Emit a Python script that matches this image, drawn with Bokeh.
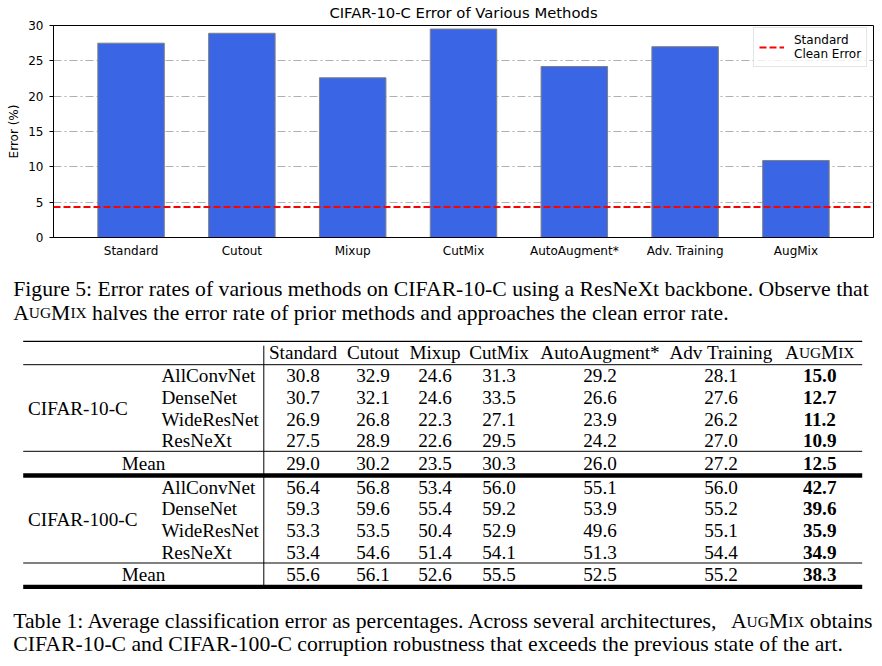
from bokeh.plotting import figure
from bokeh.models import (ColumnDataSource, FactorRange, Range1d, Span, Legend,
                          LegendItem, SingleIntervalTicker)
from bokeh.layouts import column
from bokeh.embed import file_html
from bokeh.resources import INLINE
from bokeh.core.properties import value

# ---------------- data ----------------
methods = ["Standard", "Cutout", "Mixup", "CutMix", "AutoAugment*", "Adv. Training", "AugMix"]
resnext_errors = [27.5, 28.9, 22.6, 29.5, 24.2, 27.0, 10.9]
clean_error = 4.3

table_headers = ["Standard", "Cutout", "Mixup", "CutMix", "AutoAugment*", "Adv Training"]
architectures = ["AllConvNet", "DenseNet", "WideResNet", "ResNeXt"]
datasets = ["CIFAR-10-C", "CIFAR-100-C"]
c10_allconvnet = [30.8, 32.9, 24.6, 31.3, 29.2, 28.1, 15.0]
c10_densenet = [30.7, 32.1, 24.6, 33.5, 26.6, 27.6, 12.7]
c10_wideresnet = [26.9, 26.8, 22.3, 27.1, 23.9, 26.2, 11.2]
c10_resnext = [27.5, 28.9, 22.6, 29.5, 24.2, 27.0, 10.9]
c10_mean = [29.0, 30.2, 23.5, 30.3, 26.0, 27.2, 12.5]
c100_allconvnet = [56.4, 56.8, 53.4, 56.0, 55.1, 56.0, 42.7]
c100_densenet = [59.3, 59.6, 55.4, 59.2, 53.9, 55.2, 39.6]
c100_wideresnet = [53.3, 53.5, 50.4, 52.9, 49.6, 55.1, 35.9]
c100_resnext = [53.4, 54.6, 51.4, 54.1, 51.3, 54.4, 34.9]
c100_mean = [55.6, 56.1, 52.6, 55.5, 52.5, 55.2, 38.3]

fig_caption_1 = "Figure 5: Error rates of various methods on CIFAR-10-C using a ResNeXt backbone. Observe that"
fig_caption_2 = "halves the error rate of prior methods and approaches the clean error rate."
tab_caption_1a = "Table 1: Average classification error as percentages. Across several architectures,"
tab_caption_1b = "obtains"
tab_caption_2 = "CIFAR-10-C and CIFAR-100-C corruption robustness that exceeds the previous state of the art."

SANS = "DejaVu Sans"
SERIF = "Liberation Serif"
W = 882
CHART_H = 262
TOTAL_H = 665

# ---------------- chart ----------------
p = figure(x_range=FactorRange(factors=methods, range_padding=0.2, range_padding_units="absolute"),
           y_range=Range1d(0, 30), width=W, height=CHART_H, output_backend="svg",
           toolbar_location=None, title="CIFAR-10-C Error of Various Methods",
           min_border_left=53, min_border_right=9, min_border_top=25, min_border_bottom=25)
p.frame_align = False
p.title.text_font = SANS
p.title.text_font_size = "14.8px"
p.title.text_font_style = "normal"
p.title.align = "center"
p.title.vertical_align = "top"
p.title.standoff = 5
p.title.text_color = "black"

src = ColumnDataSource(dict(method=methods, err=resnext_errors))
p.vbar(x="method", top="err", width=0.6, source=src, fill_color="#3a66e6",
       line_color="#808080", line_width=1)

p.add_layout(Span(location=clean_error, dimension="width", line_color="red",
                  line_width=2, line_dash="7 3"))
clean_src = ColumnDataSource(dict(method=[methods[0]], err=[clean_error]))
clean_r = p.line(x="method", y="err", source=clean_src, line_color="red", line_width=2,
                 line_dash="7 3")
legend = Legend(items=[LegendItem(label="Standard\nClean Error", renderers=[clean_r])],
                location=(700, 170), padding=5, label_standoff=10, glyph_width=25,
                label_text_font=SANS, label_text_font_size="12px", label_text_color="black",
                border_line_color="#cccccc", background_fill_alpha=0.8, margin=0)
p.add_layout(legend)

p.outline_line_color = "black"
p.outline_line_alpha = 1
p.xgrid.visible = False
p.ygrid.grid_line_color = "#b0b0b0"
p.ygrid.grid_line_dash = "8 3 2 3"
p.ygrid.grid_line_width = 1

p.yaxis.ticker = SingleIntervalTicker(interval=5, num_minor_ticks=0)
for ax in (p.xaxis[0], p.yaxis[0]):
    ax.axis_line_color = "black"
    ax.major_label_text_font = SANS
    ax.major_label_text_font_size = "12px"
    ax.major_label_text_color = "black"
    ax.minor_tick_line_color = None
p.xaxis.major_tick_line_color = None
p.xaxis.major_tick_out = 0
p.xaxis.major_tick_in = 0
p.xaxis.major_label_standoff = 6
p.yaxis.major_tick_out = 4
p.yaxis.major_tick_in = 0
p.yaxis.major_tick_line_color = "black"
p.yaxis.major_label_standoff = 6
p.yaxis.axis_label = "Error (%)"
p.yaxis.axis_label_text_font = SANS
p.yaxis.axis_label_text_font_size = "12px"
p.yaxis.axis_label_text_font_style = "normal"
p.yaxis.axis_label_text_color = "black"
p.yaxis.axis_label_standoff = 4

# ---------------- captions + table (page-pixel coordinates) ----------------
RULE_DY = -1.5    # layout correction for the rules
TXT_DY = -6.5     # layout correction for text baselines

t = figure(x_range=Range1d(0, W), y_range=Range1d(TOTAL_H, CHART_H), width=W,
           height=TOTAL_H - CHART_H, output_backend="svg", toolbar_location=None,
           x_axis_type=None, y_axis_type=None, min_border=0, min_border_left=0,
           min_border_right=0, min_border_top=0, min_border_bottom=0, outline_line_color=None)
t.frame_align = False
t.grid.visible = False

TW = {' ': 250, 'a': 444, 'b': 500, 'c': 444, 'd': 500, 'e': 444, 'f': 333, 'g': 500, 'h': 500,
      'i': 278, 'j': 278, 'k': 500, 'l': 278, 'm': 778, 'n': 500, 'o': 500, 'p': 500, 'q': 500,
      'r': 333, 's': 389, 't': 278, 'u': 500, 'v': 500, 'w': 722, 'x': 500, 'y': 500, 'z': 444,
      'A': 722, 'B': 667, 'C': 667, 'D': 722, 'E': 611, 'F': 556, 'G': 722, 'H': 722, 'I': 333,
      'J': 389, 'K': 722, 'L': 611, 'M': 889, 'N': 722, 'O': 722, 'P': 556, 'Q': 722, 'R': 667,
      'S': 556, 'T': 611, 'U': 722, 'V': 722, 'W': 944, 'X': 722, 'Y': 722, 'Z': 611,
      '.': 250, ',': 250, ':': 278, '-': 333, '*': 500}


def tw(s, size):
    return sum(TW.get(c, 500) for c in s) * size / 1000.0


def augmix_pieces(x0, f, fs):
    out = []
    x = x0
    for s, size in (("A", f), ("UG", fs), ("M", f), ("IX", fs)):
        out.append((x, s, size))
        x += tw(s, size)
    return out, x


tx, ty, tt, tsz, tal, tst = [], [], [], [], [], []


def put(x, y, s, size, align="left", style="normal"):
    tx.append(x); ty.append(y + TXT_DY); tt.append(s); tsz.append("%.2fpx" % size)
    tal.append(align); tst.append(style)


CF = 21.7            # caption font
CS = CF * 0.71       # small caps
XL = 12.7            # caption left
FC1, FC2 = 294.7, 318.5
put(XL, FC1, fig_caption_1, CF)
pcs, xe = augmix_pieces(XL, CF, CS)
for x, s, sz in pcs:
    put(x, FC2, s, sz)
put(xe + tw(" ", CF), FC2, fig_caption_2, CF)

put(XL, 627.0, tab_caption_1a, CF)
put(872.0, 627.0, tab_caption_1b, CF, align="right")
w_aug = augmix_pieces(0, CF, CS)[1]
pcs, _ = augmix_pieces(872.0 - tw(tab_caption_1b, CF) - tw(" ", CF) - w_aug, CF, CS)
for x, s, sz in pcs:
    put(x, 627.0, s, sz)
put(XL, 650.0, tab_caption_2, CF)

# table
TF = 19.2
col_x = [302.5, 372.5, 434.5, 498.5, 599.5, 720.5, 819.2]
header_base = 358.3
for cx, h in zip(col_x, table_headers):
    put(cx, header_base, h, TF, align="center")
TS = TF * 0.8
w_aug = augmix_pieces(0, TF, TS)[1]
pcs, _ = augmix_pieces(col_x[6] - w_aug / 2, TF, TS)
for x, s, sz in pcs:
    put(x, header_base, s, sz)

row_step = 21.67
blocks = [
    (datasets[0], [c10_allconvnet, c10_densenet, c10_wideresnet, c10_resnext], c10_mean, 381.7, 469.0),
    (datasets[1], [c100_allconvnet, c100_densenet, c100_wideresnet, c100_resnext], c100_mean, 493.3, 580.0),
]
for name, rows, mean, y0, ymean in blocks:
    put(27.5, y0 + 1.5 * row_step, name, TF)
    for i, (arch, vals) in enumerate(zip(architectures, rows)):
        yb = y0 + i * row_step
        put(161.0, yb, arch, TF)
        for j, v in enumerate(vals):
            put(col_x[j], yb, "%.1f" % v, TF, align="center",
                style="bold" if j == len(vals) - 1 else "normal")
    put(143.0, ymean, "Mean", TF, align="center")
    for j, v in enumerate(mean):
        put(col_x[j], ymean, "%.1f" % v, TF, align="center",
            style="bold" if j == len(mean) - 1 else "normal")

tsrc = ColumnDataSource(dict(x=tx, y=ty, text=tt, size=tsz, align=tal, style=tst))
t.text(x="x", y="y", text="text", source=tsrc, text_font=value(SERIF), text_font_size="size",
       text_align="align", text_font_style="style", text_baseline="alphabetic", text_color="black")

# rules
XA, XB = 22.7, 861.7
rules_y = [y + RULE_DY for y in (342.3, 365.7, 452.3, 476.5, 564.0, 587.8)]
rules_w = [1.2, 1.0, 1.0, 4.3, 1.0, 4.3]
t.segment(x0=[XA] * 6, x1=[XB] * 6, y0=rules_y, y1=rules_y, line_width=rules_w, line_color="black")
t.segment(x0=[263.3], x1=[263.3], y0=[346.7 + RULE_DY], y1=[586.0 + RULE_DY], line_width=1,
          line_color="black")

layout = column(p, t, spacing=0)
open("out.html", "w").write(file_html(layout, INLINE))
